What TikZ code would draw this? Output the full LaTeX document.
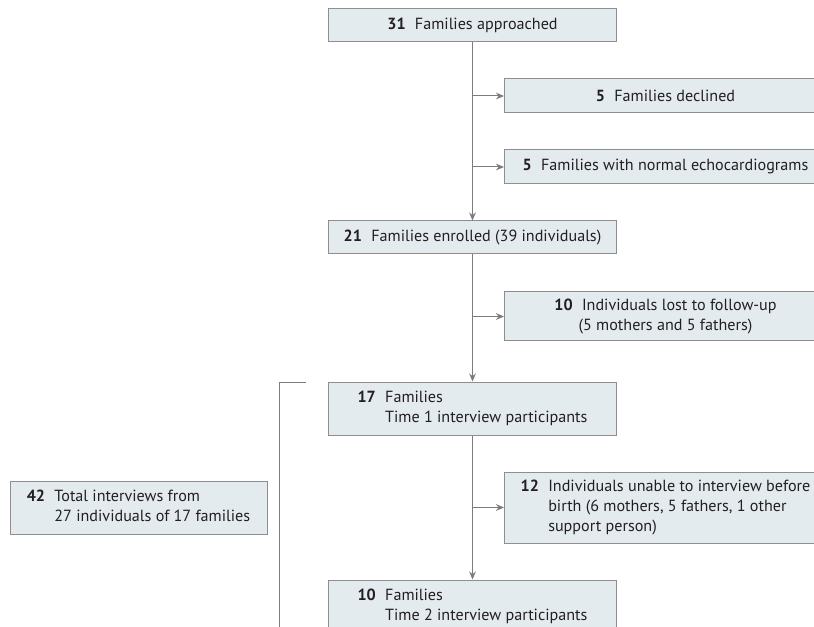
\documentclass[tikz,border=0pt]{standalone}
\usepackage{fontspec}
\setmainfont{PT Sans}
\usepackage{xcolor}
\usetikzlibrary{arrows.meta}
\definecolor{boxfill}{HTML}{E4EBEF}
\definecolor{boxline}{HTML}{8E8E8E}
\definecolor{flowline}{HTML}{7C7C7C}
\definecolor{txt}{HTML}{231F20}

\tikzset{
  flowbox/.style={draw=boxline, fill=boxfill, line width=0.75pt, text=txt,
    inner sep=0pt, align=center, font=\fontsize{12.1}{15}\selectfont},
  mainbox/.style={flowbox, minimum width=216pt},
  sidebox/.style={flowbox, anchor=west, minimum width=241.5pt},
  flow/.style={draw=flowline, line width=0.75pt},
  flowarrow/.style={flow, -{Stealth[length=6pt, width=5pt]}}
}
\newcommand{\hang}[3]{\begin{tabular}{@{}r@{\hspace{7pt}}l@{}}\textbf{#1} & #2\\ & #3\end{tabular}}

\begin{document}
\begin{tikzpicture}[x=0.75pt, y=-0.75pt]
  \useasboundingbox (0,0) rectangle (814,627);
  \clip (0,0) rectangle (814,627);
  % main column
  \node[mainbox, minimum height=24.75pt] (appr) at (472.5,25.5) {\textbf{31}\hspace{7pt}Families approached};
  \node[sidebox, minimum height=25.5pt] (decl) at (504,96) {\textbf{5}\hspace{7pt}Families declined};
  \node[sidebox, minimum height=25.5pt] (echo) at (504,167) {\textbf{5}\hspace{7pt}Families with normal echocardiograms};
  \node[mainbox, minimum height=24.75pt] (enrl) at (472.5,237.5) {\textbf{21}\hspace{7pt}Families enrolled (39 individuals)};
  \node[sidebox, minimum height=36.75pt] (lost) at (504,316.5) {\textbf{10}\hspace{7pt}Individuals lost to follow-up\\(5 mothers and 5 fathers)};
  \node[mainbox, minimum height=39.75pt] (tone) at (472.5,408.5) {\hang{17}{Families}{Time 1 interview participants}};
  \node[sidebox, minimum height=53.25pt] (unab) at (504,507.5) {\begin{tabular}{@{}r@{\hspace{7pt}}l@{}}\textbf{12} & Individuals unable to interview before\\ & birth (6 mothers, 5 fathers, 1 other\\ & support person)\end{tabular}};
  \node[mainbox, minimum height=39.75pt] (ttwo) at (472.5,606.5) {\hang{10}{Families}{Time 2 interview participants}};
  % total interviews, left
  \node[flowbox, minimum width=192.75pt, minimum height=39.75pt] (totl) at (138.5,507.5) {\hang{42}{Total interviews from}{27 individuals of 17 families}};

  % vertical flow
  \draw[flowarrow] (appr) -- (enrl);
  \draw[flowarrow] (enrl) -- (tone);
  \draw[flowarrow] (tone) -- (ttwo);
  % exclusions to the right
  \draw[flowarrow] (appr.south |- decl.west) -- (decl.west);
  \draw[flowarrow] (appr.south |- echo.west) -- (echo.west);
  \draw[flowarrow] (enrl.south |- lost.west) -- (lost.west);
  \draw[flowarrow] (tone.south |- unab.west) -- (unab.west);

  % bracket round the interview boxes
  \coordinate (brtop) at (306,382);
  \coordinate (brend) at (279,640);
  \draw[flow] (brtop) -| (brend);
\end{tikzpicture}
\end{document}
